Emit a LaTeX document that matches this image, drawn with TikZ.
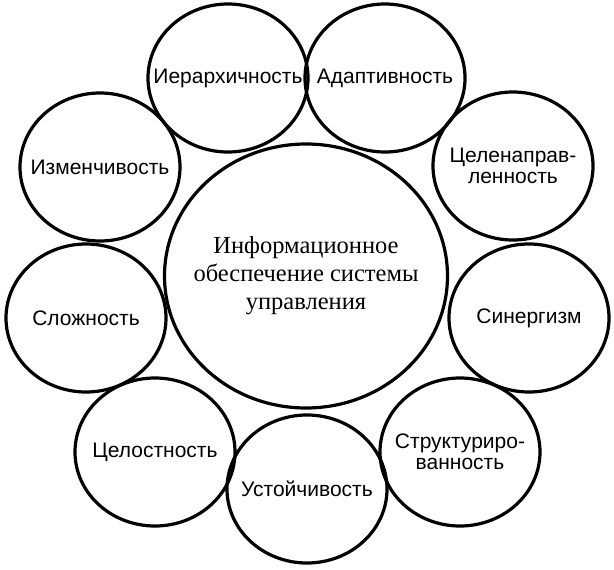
\documentclass[tikz,border=0pt]{standalone}
\usepackage{fontspec}
\setmainfont{Liberation Serif}
\newfontfamily\propfont{Liberation Sans}
\usetikzlibrary{shapes.geometric}

\begin{document}
\begin{tikzpicture}[x=1pt, y=-1pt,
  prop/.style={draw, ellipse, line width=3.2pt, minimum width=160pt, minimum height=148pt,
    inner sep=0pt, label={[align=center, font=\propfont\fontsize{21}{21}\selectfont]center:#1}},
  core/.style={draw, ellipse, line width=3.2pt, minimum width=283pt, minimum height=264pt,
    inner sep=0pt, label={[align=center, font=\fontsize{24.5}{28}\selectfont]center:#1}}]
  \useasboundingbox (0,0) rectangle (614,570);
  % Centre
  \node[core={Информационное\\обеспечение системы\\управления}] (info) at (306,276) {};
  % Properties
  \node[prop=Иерархичность] (hier) at (228,78) {};
  \node[prop=Адаптивность] (adapt) at (385,78) {};
  \node[prop=Изменчивость] (change) at (100,167) {};
  \node[prop={Целенаправ-\\ленность}, every label/.append style={yshift=-6pt}] (goal) at (513,166) {};
  \node[prop=Сложность] (complex) at (86,318) {};
  \node[prop=Синергизм] (synergy) at (529,318) {};
  \node[prop=Целостность] (whole) at (155,452) {};
  \node[prop=Устойчивость] (stable) at (307,489) {};
  \node[prop={Структуриро-\\ванность}] (struct) at (460,452) {};
\end{tikzpicture}
\end{document}
